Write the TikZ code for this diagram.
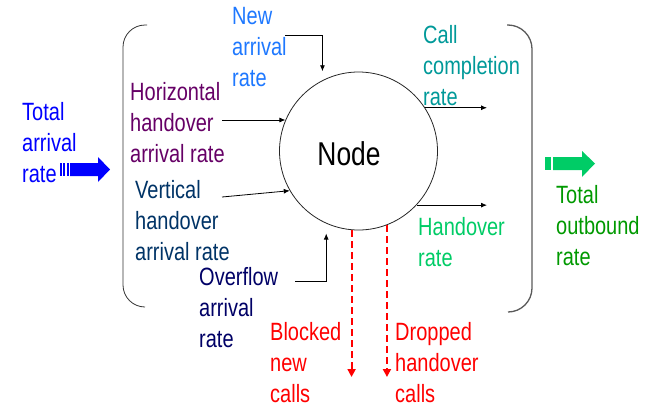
\documentclass[tikz,border=0pt]{standalone}
\usepackage{fontspec}
\setmainfont{Liberation Sans}[FakeStretch=0.8]
\usetikzlibrary{arrows.meta}
\definecolor{newblue}{RGB}{30,120,255}
\definecolor{horpurple}{RGB}{102,0,102}
\definecolor{totblue}{RGB}{0,0,255}
\definecolor{vertblue}{RGB}{0,51,102}
\definecolor{ovnavy}{RGB}{0,0,102}
\definecolor{callteal}{RGB}{0,153,153}
\definecolor{hogreen}{RGB}{0,204,102}
\definecolor{outgreen}{RGB}{0,153,0}
\definecolor{dropred}{RGB}{255,0,0}
\definecolor{bracegray}{RGB}{90,90,90}
\begin{document}
\begin{tikzpicture}[x=1pt,y=-1pt,
  lbl/.style={anchor=north west,inner sep=0pt,align=left,font=\fontsize{25}{31}\selectfont},
  conn/.style={draw=black,line width=0.8pt,-{Latex[length=6pt,width=5pt]}},
  drop/.style={draw=dropred,line width=2pt,dash pattern=on 7pt off 4pt,-{Triangle[length=8pt,width=8pt]}},
  bracel/.style={draw=black!80,rounded corners=22pt,line width=0.8pt},
  bracer/.style={draw=bracegray,rounded corners=24pt,line width=1.3pt}]
\useasboundingbox (0,0) rectangle (670,410);

% brackets
\draw[bracel] (147,25) -- (123,25) -- (123,307) -- (145,307);
\draw[bracer] (507,25) -- (532,25) -- (532,312) -- (508,312);

% central node
\node[circle,draw=black!85,line width=0.8pt,minimum size=158pt,inner sep=0pt] (node) at (358.5,151) {};
\node[inner sep=0pt,font=\fontsize{33}{38}\selectfont] (nodetext) at (349,153.5) {Node};

% labels
\node[lbl,text=newblue] (newl) at (232,7) {New\\arrival\\rate};
\node[lbl,text=horpurple] (horl) at (130,82) {Horizontal\\handover\\arrival rate};
\node[lbl,text=totblue] (totl) at (22,102) {Total\\arrival\\rate};
\node[lbl,text=vertblue] (vertl) at (135,180) {Vertical\\handover\\arrival rate};
\node[lbl,text=ovnavy] (ovl) at (199,267) {Overflow\\arrival\\rate};
\node[lbl,text=callteal] (calll) at (423,25) {Call\\completion\\rate};
\node[lbl,text=hogreen] (hol) at (418,217) {Handover\\rate};
\node[lbl,text=outgreen] (outl) at (556,185) {Total\\outbound\\rate};
\node[lbl,text=dropred] (blkl) at (270,322) {Blocked\\new\\calls};
\node[lbl,text=dropred] (drpl) at (395,322) {Dropped\\handover\\calls};

% connector ends
\coordinate (ns) at (285,35);
\coordinate (hs) at (222,120);
\coordinate (vs) at (222,197);
\coordinate (os) at (295,281);
\coordinate (ce) at (487,108);
\coordinate (he) at (487,205);
\coordinate (rb) at (352,377);

% connectors
\draw[conn,shorten >=9pt] (ns) -| (node.117);
\draw[conn] (hs) -- (hs -| node.157);
\draw[conn] (vs) -- (node.210);
\draw[conn,shorten >=10pt] (os) -| (node.246);
\draw[conn] (node.33) -- (node.33 -| ce);
\draw[conn] (node.317) -- (node.317 -| he);
\draw[drop] (node.265.28) -- (node.265.28 |- rb);
\draw[drop] (node.291.15) -- (node.291.15 |- rb);

% block arrows
\fill[totblue] (59.5,163) rectangle (61.5,176);
\fill[totblue] (63,163) rectangle (65,176);
\fill[totblue] (66.5,163) rectangle (68.5,176);
\fill[totblue] (70,163) -- (98,163) -- (98,157) -- (110,169.5) -- (98,182) -- (98,176) -- (70,176) -- cycle;
\fill[hogreen] (545,157) rectangle (551,170);
\fill[hogreen] (553,157) -- (582,157) -- (582,151) -- (595,163.5) -- (582,177) -- (582,170) -- (553,170) -- cycle;
\end{tikzpicture}
\end{document}
